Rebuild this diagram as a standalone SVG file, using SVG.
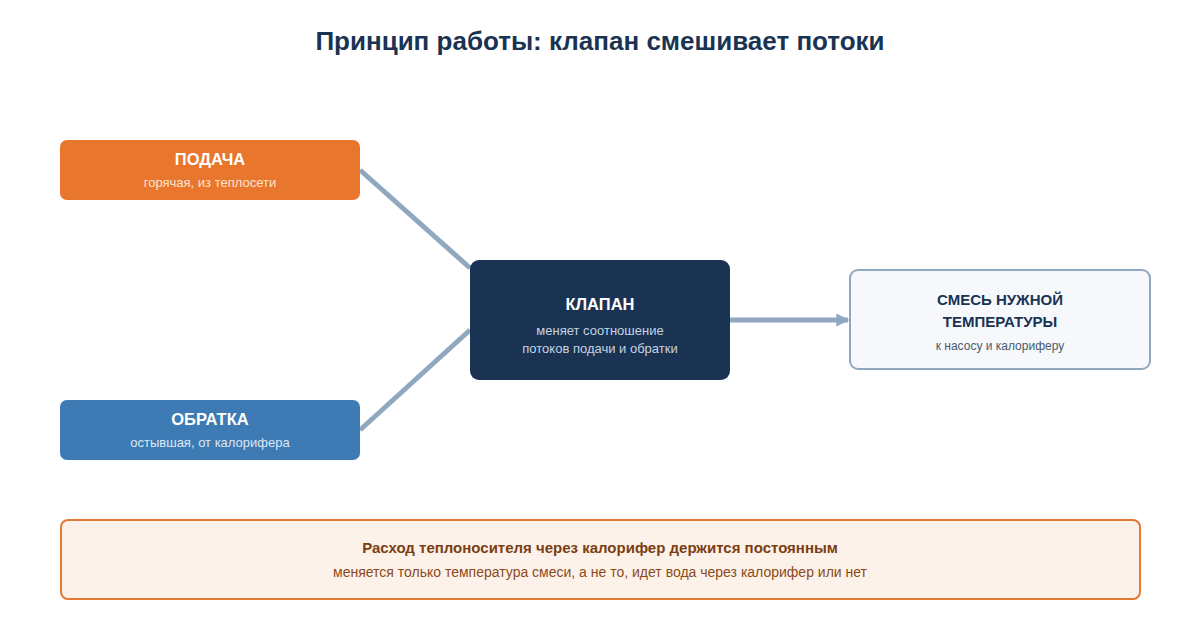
<svg xmlns="http://www.w3.org/2000/svg" width="1200" height="640" viewBox="0 0 1200 640">
<style>
text{font-family:"Liberation Sans",Arial,sans-serif;text-anchor:middle}
.t{font-weight:bold;font-size:16.5px;fill:#fff}
.s{font-size:13px}
.c{stroke:#8fa8bf;stroke-width:5;fill:none}
</style>
<defs><marker id="a" viewBox="0 0 10 10" refX="9" refY="5" markerWidth="2.6" markerHeight="2.6" orient="auto"><path d="M0,0L10,5L0,10z" fill="#8fa8bf"/></marker></defs>
<rect width="1200" height="640" fill="#fff"/>
<text x="600" y="50" font-size="26" font-weight="bold" fill="#1a3352">Принцип работы: клапан смешивает потоки</text>
<g id="connectors">
<line class="c" x1="360" y1="170" x2="470" y2="268"/>
<line class="c" x1="360" y1="430" x2="470" y2="330"/>
<line class="c" x1="730" y1="320" x2="848" y2="320" marker-end="url(#a)"/>
</g>
<g id="supply"><rect x="60" y="140" width="300" height="60" rx="7" fill="#e8762d"/>
<text class="t" x="210" y="165">ПОДАЧА</text><text class="s" x="210" y="187" fill="#fde3d0">горячая, из теплосети</text></g>
<g id="return"><rect x="60" y="400" width="300" height="60" rx="7" fill="#3e7ab3"/>
<text class="t" x="210" y="425">ОБРАТКА</text><text class="s" x="210" y="447" fill="#dce8f4">остывшая, от калорифера</text></g>
<g id="valve"><rect x="470" y="260" width="260" height="120" rx="9" fill="#1a3352"/>
<text class="t" x="600" y="310" font-size="20px">КЛАПАН</text><text class="s" x="600" y="335" fill="#c5d3e2">меняет соотношение</text><text class="s" x="600" y="353" fill="#c5d3e2">потоков подачи и обратки</text></g>
<g id="mix"><rect x="850" y="270" width="300" height="99" rx="8" fill="#f6f8fc" stroke="#8fa8bf" stroke-width="2"/>
<text x="1000" y="305" font-size="15" font-weight="bold" fill="#1a3352">СМЕСЬ НУЖНОЙ</text><text x="1000" y="327" font-size="15" font-weight="bold" fill="#1a3352">ТЕМПЕРАТУРЫ</text><text x="1000" y="350" font-size="12" fill="#4a5a6a">к насосу и калориферу</text></g>
<g id="note"><rect x="61" y="520" width="1079" height="79" rx="7" fill="#fdf2e9" stroke="#e07a35" stroke-width="2"/>
<text x="600" y="553" font-size="15" font-weight="bold" fill="#7a3e12">Расход теплоносителя через калорифер держится постоянным</text><text x="600" y="577" font-size="14" fill="#8b4a1a">меняется только температура смеси, а не то, идет вода через калорифер или нет</text></g>
</svg>
